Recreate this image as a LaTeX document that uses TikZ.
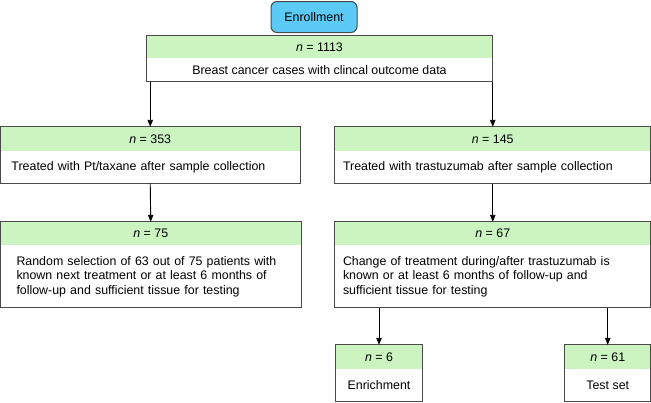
\documentclass[tikz,border=0pt]{standalone}
\usepackage{fontspec}
\setmainfont{Liberation Sans}
\usetikzlibrary{positioning,arrows.meta}

\definecolor{hdrgreen}{HTML}{CCF4C0}
\definecolor{enrollblue}{HTML}{5BCBF5}
\definecolor{framegray}{HTML}{4A4A4A}

\tikzset{
  hdr/.style={fill=hdrgreen, inner sep=0pt},
  body/.style={fill=white, inner ysep=0pt, align=left},
  frame/.style={draw=framegray, line width=1pt},
  flow/.style={line width=0.9pt, -{Triangle[length=7pt,width=5.5pt]}},
}

\begin{document}
\begin{tikzpicture}[x=1pt, y=-1pt, font=\fontsize{12.4}{14.6}\selectfont]
  \useasboundingbox (0,0) rectangle (651,402);

  % Enrollment tag
  \node[draw=framegray, line width=1pt, fill=enrollblue, rounded corners=6pt,
        minimum width=86pt, minimum height=31pt, inner sep=0pt] (enroll) at (314,17) {Enrollment};

  % All cases
  \node[hdr, minimum width=345pt, minimum height=22pt] (allh) at (319.5,47) {\textit{n} = 1113};
  \node[body, below=0pt of allh, minimum width=345pt, minimum height=23pt, align=center] (allb)
    {Breast cancer cases with clincal outcome data};
  \draw[frame] (allh.north west) rectangle (allb.south east);

  % Pt/taxane branch
  \node[hdr, minimum width=299.5pt, minimum height=24pt] (pth) at (150.25,139) {\textit{n} = 353};
  \node[body, below=0pt of pth, text width=277.5pt, inner xsep=11pt, minimum height=32pt] (ptb)
    {Treated with Pt/taxane after sample collection};
  \draw[frame] (pth.north west) rectangle (ptb.south east);

  \node[hdr, minimum width=300.5pt, minimum height=23pt] (selh) at (150.75,233.5) {\textit{n} = 75};
  \node[body, below=0pt of selh, text width=268.5pt, inner xsep=16pt, minimum height=62pt] (selb)
    {Random selection of 63 out of 75 patients with\\known next treatment or at least 6 months of\\follow-up and sufficient tissue for testing};
  \draw[frame] (selh.north west) rectangle (selb.south east);

  % Trastuzumab branch
  \node[hdr, minimum width=315.5pt, minimum height=24pt] (trh) at (492.75,139) {\textit{n} = 145};
  \node[body, below=0pt of trh, text width=299.5pt, inner xsep=8pt, minimum height=32pt] (trb)
    {Treated with trastuzumab after sample collection};
  \draw[frame] (trh.north west) rectangle (trb.south east);

  \node[hdr, minimum width=315.5pt, minimum height=23pt] (chgh) at (492.75,233.5) {\textit{n} = 67};
  \node[body, below=0pt of chgh, text width=299.5pt, inner xsep=8pt, minimum height=62pt] (chgb)
    {Change of treatment during/after trastuzumab is\\known or at least 6 months of follow-up and\\sufficient tissue for testing};
  \draw[frame] (chgh.north west) rectangle (chgb.south east);

  % Final split
  \node[hdr, minimum width=86pt, minimum height=24pt] (enrh) at (379,357) {\textit{n} = 6};
  \node[body, below=0pt of enrh, minimum width=86pt, minimum height=32pt, align=center] (enrb) {Enrichment};
  \draw[frame] (enrh.north west) rectangle (enrb.south east);

  \node[hdr, minimum width=85.5pt, minimum height=24pt] (testh) at (607.75,357) {\textit{n} = 61};
  \node[body, below=0pt of testh, minimum width=85.5pt, minimum height=32pt, align=center] (testb) {Test set};
  \draw[frame] (testh.north west) rectangle (testb.south east);

  % Arrows
  \draw[flow] (allb.south -| pth.north) -- (pth.north);
  \draw[flow] (allb.south -| trh.north) -- (trh.north);
  \draw[flow] (ptb.south) -- (selh.north);
  \draw[flow] (trb.south) -- (chgh.north);
  \draw[flow] (chgb.south -| enrh.north) -- (enrh.north);
  \draw[flow] (chgb.south -| testh.north) -- (testh.north);
\end{tikzpicture}
\end{document}
